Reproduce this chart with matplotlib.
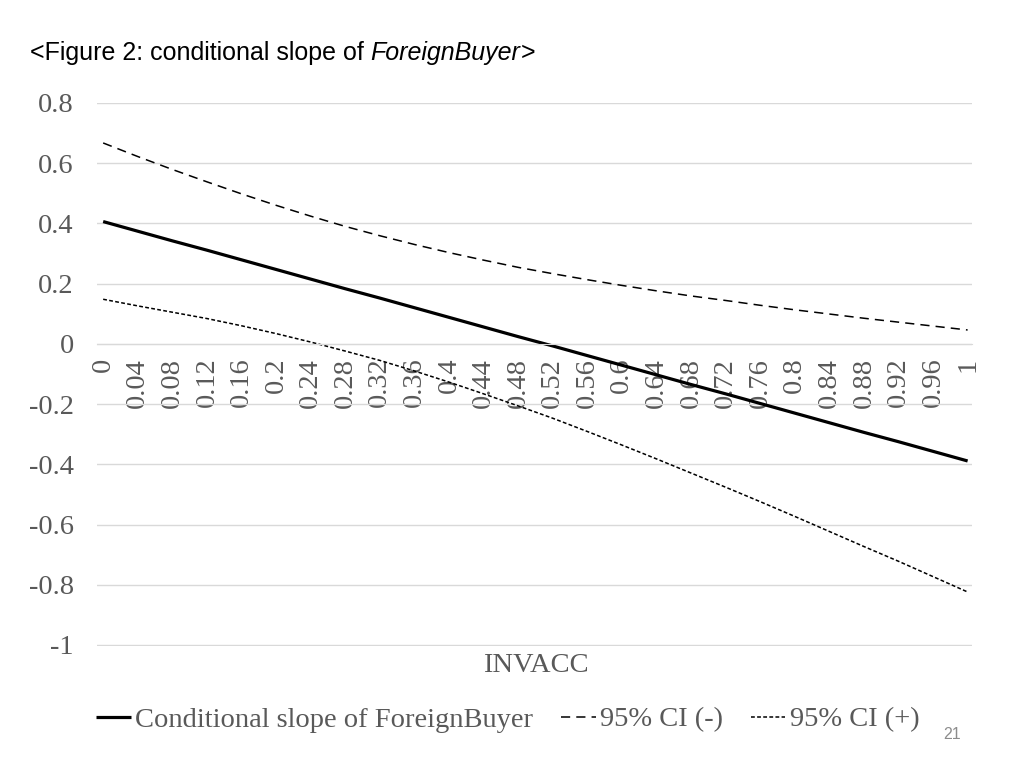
import matplotlib.pyplot as plt
import numpy as np

# data
invacc = ['0', '0.04', '0.08', '0.12', '0.16', '0.2', '0.24', '0.28', '0.32', '0.36',
          '0.4', '0.44', '0.48', '0.52', '0.56', '0.6', '0.64', '0.68', '0.72', '0.76',
          '0.8', '0.84', '0.88', '0.92', '0.96', '1']
slope = [0.406, 0.374, 0.342, 0.311, 0.279, 0.247, 0.215, 0.183, 0.152, 0.120,
         0.088, 0.056, 0.024, -0.007, -0.039, -0.071, -0.103, -0.135, -0.166, -0.198,
         -0.230, -0.262, -0.294, -0.325, -0.357, -0.389]
ci_minus = [0.667, 0.622, 0.579, 0.538, 0.498, 0.460, 0.424, 0.390, 0.359, 0.330,
            0.303, 0.278, 0.254, 0.233, 0.213, 0.194, 0.176, 0.159, 0.144, 0.128,
            0.113, 0.099, 0.085, 0.072, 0.059, 0.046]
ci_plus = [0.148, 0.126, 0.105, 0.084, 0.060, 0.034, 0.006, -0.024, -0.055, -0.090,
           -0.127, -0.166, -0.206, -0.247, -0.291, -0.336, -0.382, -0.429, -0.476, -0.524,
           -0.573, -0.623, -0.673, -0.722, -0.773, -0.824]
yticks = [0.8, 0.6, 0.4, 0.2, 0, -0.2, -0.4, -0.6, -0.8, -1]

grey = '#595959'
serif = 'Liberation Serif'
fs = 20.5

fig = plt.figure(figsize=(10.24, 7.68), dpi=100)
ax = fig.add_axes([0.095, 0.159, 0.854, 0.707])

x = np.arange(len(invacc))
l1, = ax.plot(x, slope, color='black', lw=2.3, solid_capstyle='butt')
l2, = ax.plot(x, ci_minus, color='black', lw=1.1, dashes=(6, 4))
l3, = ax.plot(x, ci_plus, color='black', lw=1.1, dashes=(2.5, 1.5))

ax.set_ylim(-1.003, 0.8)
ax.set_xlim(-0.17, 25.12)
ax.set_yticks(yticks)
ax.set_yticklabels(['0.8', '0.6', '0.4', '0.2', '0', '-0.2', '-0.4', '-0.6', '-0.8', '-1'],
                   fontfamily=serif, fontsize=fs, color=grey)
ax.yaxis.grid(True, color='#d9d9d9', lw=1)
ax.set_axisbelow(True)
ax.tick_params(axis='y', length=0, pad=17)

# horizontal axis crosses at 0
for s in ['top', 'right', 'left']:
    ax.spines[s].set_visible(False)
ax.spines['bottom'].set_position(('data', 0))
ax.spines['bottom'].set_color('#d9d9d9')
ax.set_xticks(x)
ax.set_xticklabels(invacc, rotation=90, fontfamily=serif, fontsize=fs, color=grey,
                   va='top', ha='center')
ax.tick_params(axis='x', length=0, pad=10)

fig.text(0.523, 0.133, 'INVACC', fontfamily=serif, fontsize=fs, color=grey,
         ha='center', va='center')

fig.legend([l1, l2, l3], ['Conditional slope of ForeignBuyer', '95% CI (-)', '95% CI (+)'],
           loc='center', bbox_to_anchor=(0.496, 0.063), ncol=3, frameon=False,
           prop={'family': serif, 'size': fs}, labelcolor=grey,
           handlelength=1.2, handletextpad=0.15, columnspacing=1.0)

# title with italic part
ty = 0.931
t1 = fig.text(0.029, ty, '<Figure 2: conditional slope of ', fontfamily='Liberation Sans',
              fontsize=18, ha='left', va='center')
fig.canvas.draw()
r = fig.canvas.get_renderer()
t2 = fig.text(t1.get_window_extent(r).x1 / fig.bbox.width, ty, 'ForeignBuyer',
              fontfamily='Liberation Sans', style='italic', fontsize=18, ha='left', va='center')
fig.text(t2.get_window_extent(r).x1 / fig.bbox.width, ty, '>', fontfamily='Liberation Sans',
         fontsize=18, ha='left', va='center')

fig.text(0.921, 0.043, '21', fontfamily='Liberation Sans', fontsize=11.5, color='#8c8c8c',
         ha='left', va='center')

plt.savefig('out.png', dpi=100)
plt.close()
